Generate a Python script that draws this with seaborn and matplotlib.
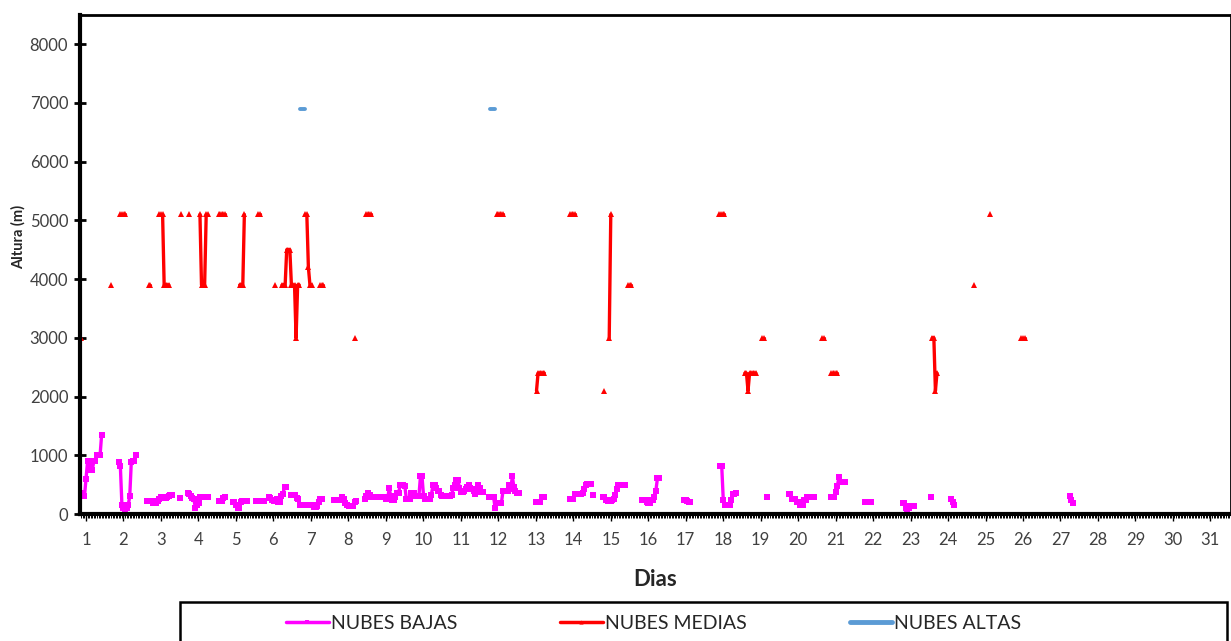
#Alturas de nubes por dia (bajas, medias, altas) - figura tipo Excel rehecha con seaborn

import pandas as pd
import matplotlib
matplotlib.use("Agg")
import matplotlib.pyplot as plt
from matplotlib.lines import Line2D
from matplotlib.patches import Rectangle
from matplotlib.ticker import MultipleLocator
import seaborn as sns

# Datos horarios: cada tramo empieza en un dia (fraccion) y sigue hora a hora
bajas_inicio = [0.875, 1.875, 2.625, 3.5, 3.71, 4.54, 4.92, 5.54, 5.88, 6.46,
                7.63, 8.44, 8.84, 11.75, 13.0, 13.92, 14.54, 14.79, 15.83, 16.96,
                17.92, 19.17, 19.75, 20.88, 21.79, 22.79, 23.54, 24.08, 27.25]
bajas_valores = [
    [360, 300, 300, 600, 900, 750, 900, 750, 900, 900, 1000, 1000, 1000, 1350],
    [890, 810, 150, 100, 80, 100, 150, 300, 890, 900, 900, 1000],
    [220, 220, 220, 220, 190, 190, 190, 220, 250, 290, 290, 280, 280, 290, 300, 330, 330],
    [280],
    [360, 340, 300, 280, 260, 110, 150, 190, 290, 290, 290, 290, 290, 290],
    [230, 230, 230, 280, 290],
    [210, 210, 150, 100, 100, 210, 220, 220, 220, 220],
    [220, 220, 220, 220, 220, 220],
    [290, 270, 240, 230, 240, 250, 210, 200, 300, 350, 460, 460],
    [320, 320, 320, 320, 280, 250, 160, 150, 150, 150, 150, 150, 150, 150, 150,
     120, 120, 130, 200, 250, 250],
    [240, 240, 240, 240, 240, 285, 250, 190, 160, 140, 140, 140, 140, 200, 230],
    [260, 300, 360, 330, 290, 290, 290, 290],
    [290, 290, 290, 290, 260, 260, 440, 300, 240, 240, 290, 360,
     360, 490, 490, 490, 480, 250, 250, 250, 360, 360, 360, 300,
     300, 300, 640, 640, 300, 260, 260, 260, 260, 330, 490, 490,
     450, 400, 400, 330, 300, 300, 300, 300, 300, 300, 330, 440,
     500, 580, 580, 450, 370, 370, 400, 420, 460, 500, 450, 420,
     400, 350, 400, 500, 450, 380, 380],
    [290, 290, 290, 290, 100, 190, 190, 190, 190, 390, 390, 390, 390, 490, 420,
     640, 460, 400, 360, 360],
    [210, 210, 210, 210, 290, 290],
    [260, 260, 260, 350, 350, 350, 350, 350, 360, 420, 500, 520, 520, 520],
    [330],
    [290, 290, 240, 220, 220, 220, 240, 250, 330, 420, 500, 500, 500, 500, 500],
    [240, 240, 240, 200, 190, 190, 240, 240, 290, 400, 610, 610],
    [240, 240, 220, 200, 200],
    [820, 820, 240, 150, 150, 150, 150, 240, 350, 350, 360],
    [290],
    [350, 350, 260, 260, 260, 210, 210, 150, 200, 150, 240, 240, 290, 290, 290, 290, 290],
    [290, 290, 290, 380, 470, 630, 550, 540, 540, 540],
    [210, 210, 210, 210, 210],
    [190, 190, 100, 80, 100, 130, 130, 130],
    [296],
    [260, 200, 150],
    [300, 240, 190],
]

medias_inicio = [0.875, 1.67, 1.92, 2.67, 2.96, 3.54, 3.75, 4.04, 4.54, 5.1,
                 5.6, 6.04, 6.23, 6.85, 7.25, 8.17, 8.48, 11.96, 13.02, 13.92,
                 14.83, 14.96, 15.46, 17.9, 18.58, 19.04, 20.65, 20.88, 23.58,
                 24.68, 25.13, 25.96]
medias_valores = [
    [3000],
    [3900],
    [5100, 5100, 5100, 5100],
    [3900, 3900],
    [5100, 5100, 5100, 3900, 3900, 3900, 3900],
    [5100],
    [5100],
    [5100, 3900, 3900, 3900, 5100, 5100],
    [5100, 5100, 5100, 5100, 5100],
    [3900, 3900, 3900, 5100],
    [5100, 5100],
    [3900],
    [3900, 3900, 3900, 4500, 4500, 4500, 3900, 3900, 3900, 3000, 3900, 3900],
    [5100, 5100, 4200, 3900, 3900],
    [3900, 3900, 3900],
    [3000],
    [5100, 5100, 5100, 5100],
    [5100, 5100, 5100, 5100, 5100],
    [2100, 2400, 2400, 2400, 2400, 2400],
    [5100, 5100, 5100, 5100],
    [2100],
    [3000, 5100],
    [3900, 3900, 3900],
    [5100, 5100, 5100, 5100],
    [2400, 2400, 2100, 2400, 2400, 2400, 2400, 2400],
    [3000, 3000],
    [3000, 3000],
    [2400, 2400, 2400, 2400, 2400],
    [3000, 3000, 2100, 2400],
    [3900],
    [5100],
    [3000, 3000, 3000],
]

altas_inicio = [6.71, 11.79]
altas_valores = [[6900, 6900, 6900, 6900], [6900, 6900, 6900, 6900]]

dias = list(range(1, 32))
alturas_ticks = list(range(0, 8001, 1000))

rosa = '#FF00FF'
rojo = '#FF0000'
azul = '#5B9BD5'
gris = '#404040'


def armar_tabla(inicios, valores):
    filas = []
    for k, (t0, vals) in enumerate(zip(inicios, valores)):
        for i, v in enumerate(vals):
            filas.append({'Dia': t0 + i / 24, 'Altura': v, 'Tramo': k})
    return pd.DataFrame(filas)


bajas = armar_tabla(bajas_inicio, bajas_valores)
medias = armar_tabla(medias_inicio, medias_valores)
altas = armar_tabla(altas_inicio, altas_valores)

sns.set_style("white")
plt.rcParams['font.family'] = ['Lato', 'DejaVu Sans']

fig = plt.figure(figsize=(12.31, 6.41), dpi=100)
ax = fig.add_axes([0.065, 0.198, 0.935, 0.779])

sns.lineplot(data=bajas, x='Dia', y='Altura', units='Tramo', estimator=None,
             color=rosa, lw=2.4, marker='s', markersize=4, markeredgewidth=0,
             legend=False, ax=ax)
sns.lineplot(data=medias, x='Dia', y='Altura', units='Tramo', estimator=None,
             color=rojo, lw=2.4, marker='^', markersize=4.8, markeredgewidth=0,
             legend=False, ax=ax)
sns.lineplot(data=altas, x='Dia', y='Altura', units='Tramo', estimator=None,
             color=azul, lw=2.8, solid_capstyle='round', legend=False, ax=ax)

ax.set_xlim(0.84, 31.55)
ax.set_ylim(0, 8500)
ax.set_xticks(dias)
ax.set_xticklabels([str(d) for d in dias], fontsize=12, color=gris)
ax.xaxis.set_minor_locator(MultipleLocator(1 / 24))
ax.set_yticks(alturas_ticks)
ax.set_yticklabels([str(a) for a in alturas_ticks], fontsize=12, color=gris)

ax.tick_params(axis='x', which='major', direction='out', length=5, width=1, pad=8,
               bottom=True, color='black')
ax.tick_params(axis='x', which='minor', direction='out', length=3, width=0.7,
               bottom=True, color='black')
ax.tick_params(axis='y', which='major', direction='inout', length=9, width=2,
               left=True, color='black', pad=4)

for lado, ancho in [('left', 3), ('bottom', 3), ('top', 2), ('right', 2)]:
    ax.spines[lado].set_color('black')
    ax.spines[lado].set_linewidth(ancho)

ax.set_xlabel('Dias', fontsize=16, fontweight='bold', color='#262626', labelpad=15)
ax.set_ylabel('Altura (m)', fontsize=10.5, fontweight='bold', color='#262626')
ax.yaxis.set_label_coords(-0.047, 0.555)

# Leyenda abajo, dentro de un recuadro negro
manijas = [
    Line2D([0], [0], color=rosa, lw=2.5, marker='s', markersize=2.5, markevery=[1],
           markeredgewidth=0),
    Line2D([0], [0], color=rojo, lw=2.5, marker='^', markersize=3, markevery=[1],
           markeredgewidth=0),
    Line2D([0], [0], color=azul, lw=3.5, solid_capstyle='round'),
]
fig.legend(manijas, ['NUBES BAJAS', 'NUBES MEDIAS', 'NUBES ALTAS'],
           loc='center', bbox_to_anchor=(0.531, 0.028), ncol=3, frameon=False,
           fontsize=14, handlelength=2.2, handletextpad=0.1, columnspacing=5.3)
fig.patches.append(Rectangle((0.1462, -0.02), 0.8505, 0.081, transform=fig.transFigure,
                             fill=False, edgecolor='black', lw=1.8))

fig.savefig('out.png', dpi=100)
